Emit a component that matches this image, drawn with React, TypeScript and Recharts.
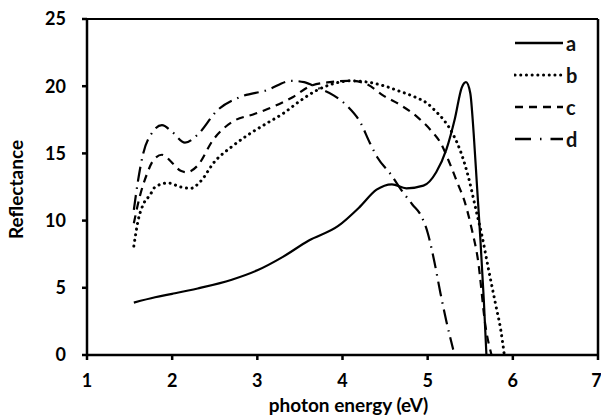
import { LineChart, Line, XAxis, YAxis, ReferenceLine } from 'recharts';

const xTicks = [1, 2, 3, 4, 5, 6, 7];
const yTicks = [0, 5, 10, 15, 20, 25];

// photon energy (eV) / reflectance pairs per sample
const aX = [1.55, 1.8, 2.0, 2.3, 2.7, 3.0, 3.3, 3.6, 3.95, 4.2, 4.4, 4.58, 4.75, 4.95, 5.1, 5.22, 5.32, 5.4, 5.45, 5.5, 5.54, 5.58, 5.62, 5.66, 5.69];
const aY = [3.9, 4.3, 4.55, 4.95, 5.6, 6.3, 7.3, 8.5, 9.6, 11.0, 12.3, 12.7, 12.4, 12.6, 13.6, 15.3, 17.6, 19.9, 20.3, 19.5, 16.5, 12.5, 8.5, 4.0, 0];

const bX = [1.55, 1.6, 1.66, 1.74, 1.8, 1.95, 2.1, 2.22, 2.33, 2.5, 2.7, 2.92, 3.1, 3.31, 3.5, 3.7, 3.9, 4.1, 4.3, 4.5, 4.68, 4.85, 5.0, 5.1, 5.2, 5.3, 5.4, 5.48, 5.56, 5.64, 5.72, 5.8, 5.86, 5.9];
const bY = [8.1, 10.0, 11.2, 11.9, 12.5, 12.8, 12.5, 12.4, 12.9, 14.4, 15.5, 16.5, 17.2, 18.0, 18.9, 19.7, 20.2, 20.4, 20.3, 20.0, 19.6, 19.2, 18.7, 18.1, 17.4, 16.4, 14.9, 13.2, 11.0, 8.8, 6.2, 3.7, 1.8, 0];

const cX = [1.55, 1.62, 1.7, 1.78, 1.88, 2.0, 2.1, 2.17, 2.3, 2.48, 2.72, 2.95, 3.12, 3.42, 3.62, 3.85, 4.1, 4.3, 4.48, 4.68, 4.88, 5.04, 5.15, 5.25, 5.35, 5.43, 5.52, 5.59, 5.68, 5.75];
const cY = [9.8, 11.8, 13.4, 14.5, 14.9, 14.3, 13.7, 13.6, 14.1, 16.0, 17.4, 17.9, 18.3, 19.2, 20.0, 20.3, 20.4, 20.1, 19.3, 18.6, 17.7, 16.7, 15.8, 14.4, 12.8, 11.5, 9.3, 7.1, 2.1, 0];

const dX = [1.55, 1.6, 1.66, 1.76, 1.88, 2.0, 2.15, 2.3, 2.53, 2.8, 3.11, 3.4, 3.55, 3.7, 3.9, 4.06, 4.21, 4.32, 4.41, 4.56, 4.7, 4.82, 4.92, 5.0, 5.08, 5.15, 5.22, 5.3];
const dY = [10.8, 13.0, 15.0, 16.5, 17.1, 16.6, 15.8, 16.4, 18.2, 19.2, 19.7, 20.4, 20.3, 19.9, 19.3, 18.5, 17.3, 15.8, 14.7, 13.5, 12.2, 11.2, 10.4, 9.1, 6.9, 4.6, 2.5, 0.4];

const toPoints = (xs: number[], ys: number[]) => xs.map((x, i) => ({ x, y: ys[i] }));

const series = [
  { name: 'a', data: toPoints(aX, aY), dash: undefined, cap: 'butt' },
  { name: 'b', data: toPoints(bX, bY), dash: '0.1 5.6', cap: 'round' },
  { name: 'c', data: toPoints(cX, cY), dash: '8 6', cap: 'butt' },
  { name: 'd', data: toPoints(dX, dY), dash: '15 6 1.5 6', cap: 'butt' },
];

const font = 'Lato, "Open Sans", sans-serif';
const tickStyle = { fill: '#000', fontSize: 18, fontWeight: 700, fontFamily: font };
const labelStyle = { fill: '#000', fontSize: 19, fontWeight: 700, fontFamily: font };

function LegendBox() {
  return (
    <div
      style={{
        position: 'absolute',
        left: 514,
        top: 27,
        width: 80,
        fontFamily: font,
        fontWeight: 700,
        fontSize: 20,
        color: '#111',
      }}
    >
      {series.map((s) => (
        <div key={s.name} style={{ display: 'flex', alignItems: 'center', height: 32 }}>
          <svg width={50} height={10}>
            <line
              x1={1}
              y1={5}
              x2={49}
              y2={5}
              stroke="#000"
              strokeWidth={s.name === 'b' ? 3 : 2.5}
              strokeDasharray={s.name === 'd' ? '16 9 1.5 9' : s.dash}
              strokeLinecap={s.cap as any}
            />
          </svg>
          <span style={{ marginLeft: 2, lineHeight: '20px' }}>{s.name}</span>
        </div>
      ))}
    </div>
  );
}

export default function App() {
  return (
    <div style={{ position: 'absolute', left: 0, top: 0, width: 601, height: 417, background: '#fff' }}>
      <LineChart width={601} height={417} margin={{ top: 19, right: 3, left: 0, bottom: 0 }}>
        <XAxis
          type="number"
          dataKey="x"
          domain={[1, 7]}
          ticks={xTicks}
          allowDuplicatedCategory={false}
          height={62}
          tickSize={5}
          tickMargin={14}
          stroke="#000"
          strokeWidth={2.5}
          tick={tickStyle}
          label={{
            value: 'photon energy (eV)',
            position: 'insideBottom',
            offset: 0,
            dy: -5,
            dx: 6,
            style: labelStyle,
          }}
        />
        <YAxis
          type="number"
          dataKey="y"
          domain={[0, 25]}
          ticks={yTicks}
          width={87}
          tickSize={5}
          tickMargin={16}
          stroke="#000"
          strokeWidth={2.5}
          tick={tickStyle}
          label={{
            value: 'Reflectance',
            angle: -90,
            position: 'insideLeft',
            offset: 0,
            dx: 16,
            dy: 52,
            style: labelStyle,
          }}
        />
        <ReferenceLine y={25} stroke="#000" strokeWidth={2} />
        <ReferenceLine x={7} stroke="#000" strokeWidth={2.5} />
        {series.map((s) => (
          <Line
            key={s.name}
            data={s.data}
            dataKey="y"
            name={s.name}
            type="monotone"
            stroke="#000"
            strokeWidth={s.name === 'b' ? 3 : 2.2}
            strokeDasharray={s.dash}
            strokeLinecap={s.cap as any}
            dot={false}
            activeDot={false}
            isAnimationActive={false}
          />
        ))}
      </LineChart>
      <LegendBox />
    </div>
  );
}
